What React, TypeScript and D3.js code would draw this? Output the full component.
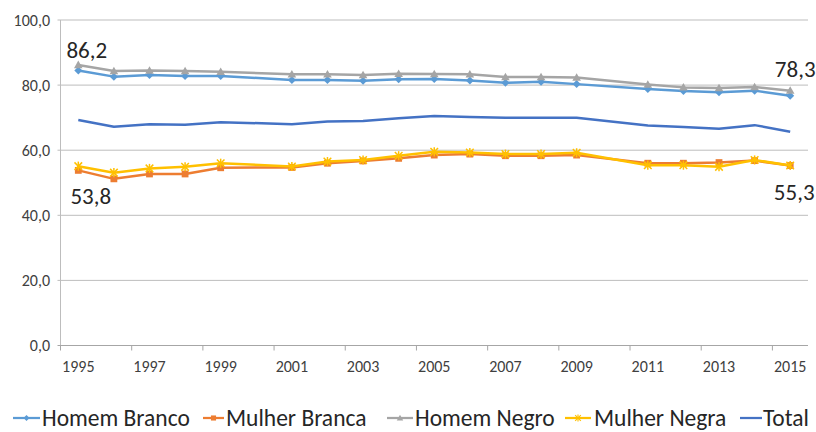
import React from "react";
import * as d3 from "d3";

const years = [1995, 1996, 1997, 1998, 1999, 2001, 2002, 2003, 2004, 2005, 2006, 2007, 2008, 2009, 2011, 2012, 2013, 2014, 2015];
const homemBranco = [84.5, 82.6, 83.1, 82.8, 82.8, 81.6, 81.6, 81.3, 81.8, 81.9, 81.4, 80.7, 81.0, 80.3, 78.8, 78.2, 77.8, 78.3, 76.7];
const mulherBranca = [53.8, 51.2, 52.7, 52.7, 54.6, 54.7, 56.0, 56.7, 57.5, 58.5, 58.8, 58.3, 58.3, 58.5, 56.0, 56.0, 56.2, 56.8, 55.3];
const homemNegro = [86.2, 84.3, 84.5, 84.3, 84.1, 83.3, 83.3, 83.1, 83.5, 83.4, 83.3, 82.5, 82.5, 82.3, 80.2, 79.3, 79.1, 79.4, 78.3];
const mulherNegra = [55.1, 53.1, 54.4, 54.9, 56.0, 55.0, 56.5, 57.0, 58.3, 59.5, 59.3, 58.8, 58.8, 59.2, 55.4, 55.4, 54.9, 57.0, 55.3];
const total = [69.3, 67.2, 68.0, 67.8, 68.6, 68.0, 68.8, 69.0, 69.8, 70.5, 70.2, 70.0, 70.0, 70.0, 67.6, 67.1, 66.6, 67.7, 65.7];

const yTicks = [0, 20, 40, 60, 80, 100];
const xLabels = [1995, 1997, 1999, 2001, 2003, 2005, 2007, 2009, 2011, 2013, 2015];
const xTickBounds = [1994.5, 1996.5, 1998.5, 2000.5, 2002.5, 2004.5, 2006.5, 2008.5, 2010.5, 2012.5, 2014.5];

type Marker = "diamond" | "square" | "triangle" | "star" | "none";
const seriesNames = ["Homem Branco", "Mulher Branca", "Homem Negro", "Mulher Negra", "Total"];
const seriesValues = [homemBranco, mulherBranca, homemNegro, mulherNegra, total];
const seriesColors = ["#5B9BD5", "#ED7D31", "#A5A5A5", "#FFC000", "#4472C4"];
const seriesMarkers: Marker[] = ["diamond", "square", "triangle", "star", "none"];

// labelled points: [series index, year index, text]
const dataLabels: [number, number, string][] = [
  [2, 0, "86,2"],
  [1, 0, "53,8"],
  [2, 18, "78,3"],
  [1, 18, "55,3"],
];
// label offsets from their point, in pixels
const labelOffsets: [number, number][] = [
  [8.5, -7],
  [12.5, 34],
  [5, -13.5],
  [4, 34.5],
];

const W = 816;
const H = 432;
const x = d3.scaleLinear().domain([1994.5, 2015.5]).range([60.5, 808]);
const y = d3.scaleLinear().domain([0, 100]).range([345.5, 20]);
const fmt = (v: number) => d3.format(".1f")(v).replace(".", ",");
const FONT = "Carlito, 'Open Sans', sans-serif";

function MarkerShape({ kind, cx, cy, color, s = 1 }: { kind: Marker; cx: number; cy: number; color: string; s?: number }) {
  if (kind === "diamond") {
    const r = 4 * s;
    return <path d={`M${cx},${cy - r}L${cx + r},${cy}L${cx},${cy + r}L${cx - r},${cy}Z`} fill={color} />;
  }
  if (kind === "square") {
    const r = 3.4 * s;
    return <rect x={cx - r} y={cy - r} width={2 * r} height={2 * r} fill={color} />;
  }
  if (kind === "triangle") {
    const r = 4.3 * s;
    return <path d={`M${cx},${cy - r}L${cx + r},${cy + r * 0.75}L${cx - r},${cy + r * 0.75}Z`} fill={color} />;
  }
  if (kind === "star") {
    const r = 3.8 * s;
    return (
      <g stroke={color} strokeWidth={1.5 * s}>
        <line x1={cx - r} y1={cy - r} x2={cx + r} y2={cy + r} />
        <line x1={cx - r} y1={cy + r} x2={cx + r} y2={cy - r} />
        <line x1={cx} y1={cy - r * 1.2} x2={cx} y2={cy + r * 1.2} />
      </g>
    );
  }
  return null;
}

const legendLineStarts = [13, 203, 387, 565, 740];
const legendLineEnds = [40, 224, 413, 591, 762];
const legendTextStarts = [42, 226, 415, 594, 763];

export default function App() {
  const line = d3
    .line<number>()
    .x((_, i) => x(years[i]))
    .y((d) => y(d));

  return (
    <div style={{ position: "absolute", left: 0, top: 0 }}>
      <svg width={W} height={H} style={{ display: "block", background: "#fff" }} fontFamily={FONT}>
        {/* gridlines */}
        {yTicks.map((t) => (
          <g key={t}>
            {t > 0 && <line x1={x.range()[0] - 3} x2={x.range()[1]} y1={y(t)} y2={y(t)} stroke="#BDBDBD" strokeWidth={1} />}
            <text x={50} y={y(t)} dy="0.35em" textAnchor="end" fontSize={16} fill="#404040">
              {fmt(t)}
            </text>
          </g>
        ))}
        {/* y axis */}
        <line x1={x.range()[0]} x2={x.range()[0]} y1={y(100)} y2={y(0)} stroke="#BDBDBD" strokeWidth={1} />
        {/* x axis */}
        <line x1={x.range()[0] - 3} x2={x.range()[1]} y1={y(0)} y2={y(0)} stroke="#A6A6A6" strokeWidth={1} />
        {xTickBounds.map((b) => (
          <line key={b} x1={x(b)} x2={x(b)} y1={y(0)} y2={y(0) + 5} stroke="#A6A6A6" strokeWidth={1} />
        ))}
        {xLabels.map((yr) => (
          <text key={yr} x={x(yr)} y={372} textAnchor="middle" fontSize={16} fill="#404040">
            {yr}
          </text>
        ))}

        {/* series */}
        {seriesValues.map((vals, si) => (
          <g key={seriesNames[si]}>
            <path d={line(vals) || ""} fill="none" stroke={seriesColors[si]} strokeWidth={2.5} strokeLinejoin="round" />
            {vals.map((v, i) => (
              <MarkerShape key={i} kind={seriesMarkers[si]} cx={x(years[i])} cy={y(v)} color={seriesColors[si]} />
            ))}
          </g>
        ))}

        {/* data labels */}
        {dataLabels.map(([si, yi, txt], k) => (
          <text
            key={txt}
            x={x(years[yi]) + labelOffsets[k][0]}
            y={y(seriesValues[si][yi]) + labelOffsets[k][1]}
            textAnchor="middle"
            fontSize={23}
            fill="#262626"
          >
            {txt}
          </text>
        ))}

        {/* legend */}
        {seriesNames.map((name, si) => {
          const ly = 418;
          const l0 = legendLineStarts[si];
          const l1 = legendLineEnds[si];
          return (
            <g key={name}>
              <line x1={l0} x2={l1} y1={ly} y2={ly} stroke={seriesColors[si]} strokeWidth={2.25} />
              <MarkerShape kind={seriesMarkers[si]} cx={(l0 + l1) / 2} cy={ly} color={seriesColors[si]} s={0.75} />
              <text x={legendTextStarts[si]} y={ly} dy="0.34em" fontSize={23.5} fill="#262626">
                {name}
              </text>
            </g>
          );
        })}
      </svg>
    </div>
  );
}
